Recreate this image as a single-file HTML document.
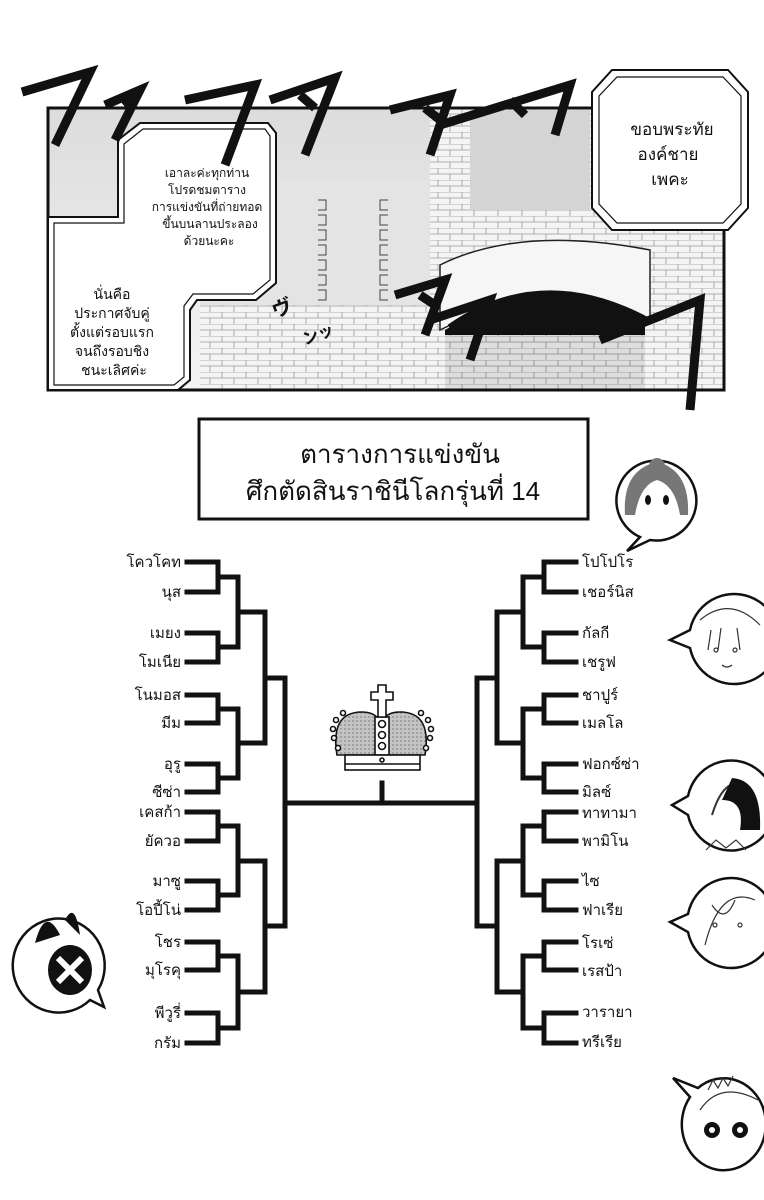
<!DOCTYPE html>
<html><head><meta charset="utf-8"><style>
html,body{margin:0;padding:0;background:#fff;}
svg{display:block;}
text{font-family:"Liberation Sans","Noto Sans CJK SC",sans-serif;fill:#111;}
</style></head><body>
<svg width="764" height="1200" viewBox="0 0 764 1200" xmlns="http://www.w3.org/2000/svg">
<defs>
<linearGradient id="sky" x1="0" y1="0" x2="0" y2="1"><stop offset="0" stop-color="#dcdcdc"/><stop offset="1" stop-color="#f4f4f4"/></linearGradient>
<pattern id="brick" width="24" height="12" patternUnits="userSpaceOnUse"><rect width="24" height="12" fill="#f4f4f4"/><path d="M0 0H24M0 6H24M6 0V6M18 6V12" stroke="#999" stroke-width="0.8"/></pattern>
<pattern id="dots" width="4" height="4" patternUnits="userSpaceOnUse"><rect width="4" height="4" fill="#c4c4c4"/><circle cx="1" cy="1" r="0.9" fill="#888"/></pattern>
</defs>
<!-- top panel -->
<rect x="48" y="108" width="676" height="282" fill="url(#sky)"/>
<rect x="200" y="180" width="230" height="200" fill="#e4e4e4"/>
<rect x="200" y="305" width="230" height="85" fill="url(#brick)"/>
<rect x="430" y="108" width="294" height="282" fill="url(#brick)"/>
<rect x="470" y="110" width="120" height="100" fill="#d4d4d4"/>
<path d="M440 265 Q520 225 650 250 L650 320 Q560 270 440 330 Z" fill="#f6f6f6" stroke="#222" stroke-width="1.5"/>
<path d="M445 330 Q540 270 645 320 L645 390 L445 390 Z" fill="#111"/>
<rect x="445" y="335" width="200" height="55" fill="url(#brick)" opacity="0.9"/>
<path d="M450 328 Q540 265 645 320" fill="none" stroke="#111" stroke-width="8"/>
<!-- mini bracket -->
<g stroke="#444" stroke-width="1" fill="none">
<path d="M318 200h8v10h-8M318 215h8v10h-8M318 230h8v10h-8M318 245h8v10h-8M318 260h8v10h-8M318 275h8v10h-8M318 290h8v10h-8"/>
<path d="M388 200h-8v10h8M388 215h-8v10h8M388 230h-8v10h8M388 245h-8v10h8M388 260h-8v10h8M388 275h-8v10h8M388 290h-8v10h8"/>
</g>
<rect x="48" y="108" width="676" height="282" fill="none" stroke="#111" stroke-width="3"/>
<!-- left bubble -->
<path d="M48 217 L118 217 L118 140 L140 123 L268 123 L276 133 L276 283 L256 300 L197 300 L190 310 L190 380 L178 390 L48 390 Z" fill="#fff" stroke="#111" stroke-width="2"/>
<path d="M54 223 L124 223 L124 144 L143 129 L265 129 L270 136 L270 280 L253 294 L193 294 L184 306 L184 377 L174 385 L54 385 Z" fill="none" stroke="#111" stroke-width="1.2"/>
<g font-size="12" text-anchor="middle">
<text x="207" y="177">เอาละค่ะทุกท่าน</text>
<text x="207" y="194">โปรดชมตาราง</text>
<text x="207" y="211">การแข่งขันที่ถ่ายทอด</text>
<text x="210" y="228">ขึ้นบนลานประลอง</text>
<text x="209" y="245">ด้วยนะคะ</text>
</g>
<g font-size="14" text-anchor="middle">
<text x="112" y="299">นั่นคือ</text>
<text x="112" y="318">ประกาศจับคู่</text>
<text x="112" y="337">ตั้งแต่รอบแรก</text>
<text x="112" y="356">จนถึงรอบชิง</text>
<text x="114" y="375">ชนะเลิศค่ะ</text>
</g>
<!-- right octagon -->
<path d="M612 70 L728 70 L748 92 L748 208 L728 230 L612 230 L592 208 L592 92 Z" fill="#fff" stroke="#111" stroke-width="2"/>
<path d="M617 77 L723 77 L741 96 L741 204 L723 223 L617 223 L599 204 L599 96 Z" fill="none" stroke="#111" stroke-width="1.2"/>
<g font-size="17" text-anchor="middle">
<text x="672" y="135">ขอบพระทัย</text>
<text x="668" y="160">องค์ชาย</text>
<text x="670" y="185">เพคะ</text>
</g>
<!-- sound effects -->
<g stroke="#111" stroke-width="9" fill="none" stroke-linejoin="miter">
<path d="M22 92 L90 72 L55 145"/><path d="M105 105 L140 90 L115 140 M125 100 L132 108"/>
<path d="M185 100 L255 85 L225 165"/><path d="M270 100 L335 78 L305 155 M300 95 L315 108"/>
<path d="M390 110 L450 95 L430 155 M425 108 L440 120"/>
<path d="M440 125 L570 85 L555 135 M510 100 L525 115"/>
<path d="M395 295 L445 280 L425 335 M420 295 L435 305"/>
<path d="M430 320 L490 300 L470 360"/>
<path d="M600 340 L700 300 L690 410"/>
</g>
<text x="275" y="318" font-size="20" font-weight="bold" transform="rotate(-20 275 318)">ヴ</text>
<text x="305" y="345" font-size="16" font-weight="bold" transform="rotate(-20 305 345)">ンッ</text>
<!-- title -->
<rect x="199" y="419" width="389" height="100" fill="#fff" stroke="#111" stroke-width="3"/>
<g font-size="26" text-anchor="middle">
<text x="400" y="463">ตารางการแข่งขัน</text>
<text x="393" y="500">ศึกตัดสินราชินีโลกรุ่นที่ 14</text>
</g>
<!-- bracket -->
<g stroke="#111" stroke-width="5" fill="none" stroke-linecap="square">
<path d="M187 562H218V592H187 M187 633H218V662H187 M187 695H218V723H187 M187 764H218V792H187 M187 812H218V841H187 M187 881H218V910H187 M187 942H218V970H187 M187 1013H218V1043H187"/>
<path d="M218 577H238V647H218 M218 709H238V778H218 M218 826H238V895H218 M218 956H238V1028H218"/>
<path d="M238 612H265V743H238 M238 861H265V992H238"/>
<path d="M265 678H285V926H265"/>
<path d="M285 803H477"/>
<path d="M576 562H544V592H576 M576 633H544V662H576 M576 695H544V723H576 M576 764H544V792H576 M576 812H544V841H576 M576 881H544V910H576 M576 942H544V970H576 M576 1013H544V1043H576"/>
<path d="M544 577H523V647H544 M544 709H523V778H544 M544 826H523V895H544 M544 956H523V1028H544"/>
<path d="M523 612H497V743H523 M523 861H497V992H523"/>
<path d="M497 678H477V926H497"/>
<path d="M382 783V803"/>
</g>
<g font-size="15" text-anchor="end">
<text x="181" y="567">โควโคท</text><text x="181" y="597">นุส</text>
<text x="181" y="638">เมยง</text><text x="181" y="667">โมเนีย</text>
<text x="181" y="700">โนมอส</text><text x="181" y="728">มีม</text>
<text x="181" y="769">อุรู</text><text x="181" y="797">ซีซ่า</text>
<text x="181" y="817">เคสก้า</text><text x="181" y="846">ยัควอ</text>
<text x="181" y="886">มาซู</text><text x="181" y="915">โอปี้โน่</text>
<text x="181" y="947">โชร</text><text x="181" y="975">มุโรคุ</text>
<text x="181" y="1018">พีวูรี่</text><text x="181" y="1048">กรัม</text>
</g>
<g font-size="15">
<text x="582" y="567">โปโปโร</text><text x="582" y="597">เชอร์นิส</text>
<text x="582" y="638">กัลกี</text><text x="582" y="667">เชรูฟ</text>
<text x="582" y="700">ชาปูร์</text><text x="582" y="728">เมลโล</text>
<text x="582" y="769">ฟอกซ์ซ่า</text><text x="582" y="797">มิลซ์</text>
<text x="582" y="818">ทาทามา</text><text x="582" y="846">พามิโน</text>
<text x="582" y="886">ไซ</text><text x="582" y="915">ฟาเรีย</text>
<text x="582" y="948">โรเซ่</text><text x="582" y="976">เรสป้า</text>
<text x="582" y="1017">วารายา</text><text x="582" y="1047">ทรีเรีย</text>
</g>
<!-- crown -->
<g stroke="#111" stroke-width="1.6">
<path d="M337 755 Q330 712 362 712 Q378 712 381 725 Q384 712 400 712 Q432 712 425 755 Z" fill="url(#dots)"/>
<rect x="375" y="717" width="14" height="38" fill="#fff"/>
<circle cx="382" cy="724" r="3.5" fill="#fff"/><circle cx="382" cy="735" r="3.5" fill="#fff"/><circle cx="382" cy="746" r="3.5" fill="#fff"/>
<path d="M378 685h8v7h7v8h-7v17h-8v-17h-7v-8h7z" fill="#fff"/>
<g fill="#fff"><circle cx="343" cy="713" r="2.5"/><circle cx="336" cy="720" r="2.5"/><circle cx="333" cy="729" r="2.5"/><circle cx="334" cy="738" r="2.5"/><circle cx="338" cy="748" r="2.5"/>
<circle cx="421" cy="713" r="2.5"/><circle cx="428" cy="720" r="2.5"/><circle cx="431" cy="729" r="2.5"/><circle cx="430" cy="738" r="2.5"/><circle cx="426" cy="748" r="2.5"/></g>
<rect x="345" y="755" width="75" height="15" fill="#fff"/>
<path d="M345 764H420"/>
<circle cx="382" cy="760" r="2" fill="#fff"/>
</g>
<!-- character bubbles -->
<g stroke="#111" stroke-width="2.5" fill="#fff">
<path d="M640 537 L627 551 L650 540 A40 40 0 1 0 640 537 Z"/>
<path d="M690 630 L670 640 L690 648 A45 45 0 1 0 690 630 Z"/>
<path d="M688 796 L672 805 L688 815 A44 45 0 1 0 688 796 Z"/>
<path d="M688 914 L670 922 L688 932 A44 45 0 1 0 688 914 Z"/>
<path d="M690 1097 L673 1078 L698 1088 A42 46 0 1 1 690 1097 Z"/>
<path d="M90 1000 L104 1007 L98 990 A46 47 0 1 0 90 1000 Z"/>
</g>
<g fill="#777"><path d="M625 515 Q622 470 657 462 Q690 470 688 515 L680 515 Q675 485 657 480 Q640 485 635 515 Z"/><circle cx="657" cy="466" r="8"/></g>
<g fill="#111"><ellipse cx="648" cy="500" rx="3" ry="5"/><ellipse cx="666" cy="500" rx="3" ry="5"/></g>
<g fill="none" stroke="#333" stroke-width="1.2"><path d="M700 620 Q730 595 760 625 M708 650 l3 -20 M718 650 l3 -22 M740 650 l-3 -22"/><circle cx="716" cy="650" r="2"/><circle cx="735" cy="650" r="2"/><path d="M722 665 q5 4 10 0"/>
<path d="M712 815 Q726 770 750 790" stroke-width="2"/><path d="M706 850 l10 -10 10 8 10 -8 10 10"/>
<path d="M705 945 Q720 885 755 900 M712 905 Q725 925 735 900"/><circle cx="715" cy="925" r="2"/><circle cx="740" cy="925" r="2"/>
<path d="M700 1110 Q720 1080 758 1100 M708 1090 l5 -10 5 8 5 -10 5 8 5 -10"/></g>
<path d="M732 778 Q762 780 760 830 L740 830 Q745 800 722 800 Z" fill="#111"/>
<g fill="#111"><circle cx="712" cy="1130" r="8"/><circle cx="740" cy="1130" r="8"/></g>
<g fill="#fff"><circle cx="712" cy="1130" r="3"/><circle cx="740" cy="1130" r="3"/></g>
<ellipse cx="70" cy="970" rx="22" ry="25" fill="#111"/>
<path d="M35 943 Q45 905 60 935 Z M65 920 Q75 900 80 935 Z" fill="#111"/>
<path d="M58 958 L82 982 M82 958 L58 982" stroke="#fff" stroke-width="6"/>
</svg>
</body></html>
